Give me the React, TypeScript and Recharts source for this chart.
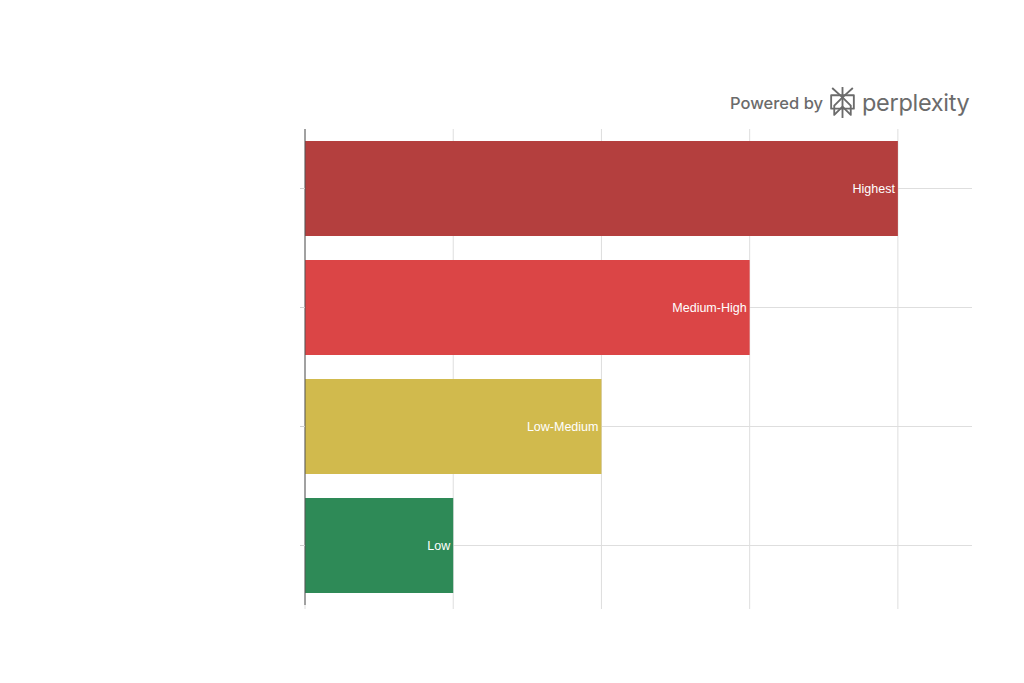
import { BarChart, Bar, XAxis, YAxis, CartesianGrid, Cell, LabelList } from "recharts";

const levels = ["Highest", "Medium-High", "Low-Medium", "Low"];
const scores = [4, 3, 2, 1];
const barColors = ["#B43F3E", "#DB4546", "#D1BA4D", "#2E8A57"];
const xTicks = [0, 1, 2, 3, 4];

const data = levels.map((name, i) => ({ name, value: scores[i] }));

const noTick = () => <g />;

function PerplexityMark() {
  return (
    <svg width="27" height="33" viewBox="0 0 26 32" style={{ margin: "0 6px" }}>
      <g fill="none" stroke="#6b6b6b" strokeWidth="1.8" strokeLinejoin="round">
        <path d="M3 2 L13 11 L23 2" />
        <path d="M13 1 V31" />
        <path d="M2 9 H24 V22 H2 Z" />
        <path d="M13 11 L5 19 V28 L13 20" />
        <path d="M13 11 L21 19 V28 L13 20" />
      </g>
    </svg>
  );
}

export default function App() {
  return (
    <div style={{ position: "relative", width: 1000, height: 660 }}>
      <BarChart
        width={1000}
        height={660}
        data={data}
        layout="vertical"
        margin={{ top: 121, right: 36, bottom: 58, left: 292 }}
        barCategoryGap="10%"
      >
        {/* syncWithTicks: lines only at ticks, no frame round the plot */}
        <CartesianGrid stroke="#dedede" syncWithTicks />
        <XAxis
          type="number"
          domain={[0, 4.5]}
          ticks={xTicks}
          axisLine={false}
          tickLine={{ stroke: "#dedede" }}
          tickSize={4}
          tick={noTick}
          height={5}
        />
        <YAxis
          type="category"
          dataKey="name"
          width={5}
          axisLine={{ stroke: "#555" }}
          tickLine={{ stroke: "#cfcfcf" }}
          tickSize={5}
          tick={noTick}
        />
        <Bar dataKey="value" isAnimationActive={false}>
          {data.map((d, i) => (
            <Cell key={d.name} fill={barColors[i]} />
          ))}
          <LabelList
            dataKey="name"
            position="insideRight"
            offset={3}
            fill="#ffffff"
            fontSize={12.5}
            fontFamily="Liberation Sans, Arial, sans-serif"
          />
        </Bar>
      </BarChart>
      <div
        style={{
          position: "absolute",
          top: 78,
          left: 722,
          display: "flex",
          alignItems: "center",
          fontFamily: "Inter, sans-serif",
          color: "#6b6b6b",
        }}
      >
        <span style={{ fontSize: 16.5, fontWeight: 500 }}>Powered by</span>
        <PerplexityMark />
        <span style={{ fontSize: 23.5, fontWeight: 400, letterSpacing: -0.3 }}>perplexity</span>
      </div>
    </div>
  );
}
